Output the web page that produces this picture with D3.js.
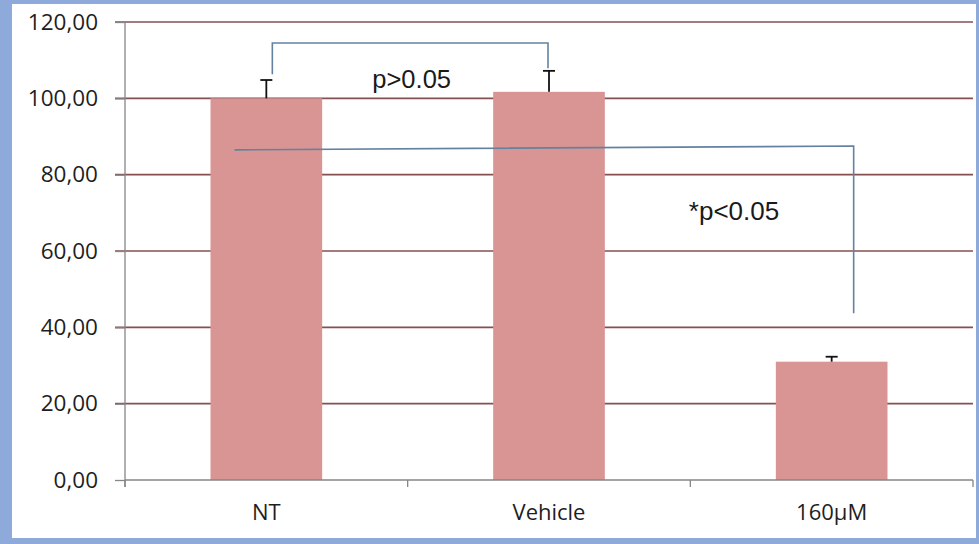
<!DOCTYPE html>
<html>
<head>
<meta charset="utf-8">
<script src="https://cdn.jsdelivr.net/npm/d3@7/dist/d3.min.js"></script>
<style>
  html, body { margin: 0; padding: 0; background: #fff; }
  svg { display: block; }
</style>
</head>
<body>
<svg id="chart" width="979" height="544"></svg>
<script>
// Relative viability per treatment group (mean, upper error)
const categories = ["NT", "Vehicle", "160\u00b5M"];
const means = [100, 101.7, 31.0];
const errors = [4.8, 5.5, 1.3];
const yTicks = [0, 20, 40, 60, 80, 100, 120];

// Significance annotations (levels in axis units)
const bracketNS = { from: "NT", to: "Vehicle", top: 114.5, leftEnd: 106.3, rightEnd: 107.9, label: "p>0.05", labelAt: 102.7 };
const bracketSig = { from: "NT", to: "160\u00b5M", startLevel: 86.5, endLevel: 87.5, drop: 43.7, label: "*p<0.05", labelAt: 68.1 };

const W = 979, H = 544;
const margin = { top: 22, right: 6, bottom: 64, left: 125 };
const svg = d3.select("#chart");

// Frame
svg.append("rect").attr("x", 0).attr("y", 0).attr("width", W).attr("height", H).attr("fill", "#8eaadb");
svg.append("rect").attr("x", 12).attr("y", 4).attr("width", W - 12 - 3).attr("height", H - 4 - 6).attr("fill", "#ffffff");

const x = d3.scaleBand()
  .domain(categories)
  .range([margin.left, W - margin.right])
  .paddingInner(0.605)
  .paddingOuter(0.3025);

const y = d3.scaleLinear()
  .domain([0, 120])
  .range([H - margin.bottom, margin.top]);

const font = "'Open Sans', 'Liberation Sans', Arial, sans-serif";

// Horizontal gridlines
svg.append("g")
  .selectAll("line")
  .data(yTicks.filter(d => d > 0))
  .join("line")
  .attr("x1", margin.left - 10)
  .attr("x2", W - margin.right)
  .attr("y1", d => y(d))
  .attr("y2", d => y(d))
  .attr("stroke", "#864f50")
  .attr("stroke-width", 1.6);

// Y axis
const yAxis = svg.append("g")
  .attr("transform", `translate(${margin.left},0)`)
  .call(d3.axisLeft(y).tickValues(yTicks).tickSize(10).tickPadding(17)
    .tickFormat(d => d3.format(".2f")(d).replace(".", ",")));
yAxis.select(".domain").attr("stroke", "#868686").attr("stroke-width", 1.3)
  .attr("d", `M0,${y(120)}V${y(0) + 7}`);
yAxis.selectAll(".tick line").attr("stroke", "#868686").attr("stroke-width", 1.3);
yAxis.selectAll(".tick text").attr("font-family", font).attr("font-size", 22.5).attr("fill", "#1e1e1e");

// Bars
svg.append("g")
  .selectAll("rect")
  .data(categories)
  .join("rect")
  .attr("x", d => x(d))
  .attr("width", x.bandwidth())
  .attr("y", (d, i) => y(means[i]))
  .attr("height", (d, i) => y(0) - y(means[i]))
  .attr("fill", "#d99594");

// X axis
const xBase = y(0);
svg.append("line")
  .attr("x1", margin.left).attr("x2", W - margin.right)
  .attr("y1", xBase).attr("y2", xBase)
  .attr("stroke", "#868686").attr("stroke-width", 1.3);
const step = x.step();
const bounds = d3.range(categories.length + 1).map(i => margin.left + i * step);
svg.append("g").selectAll("line").data(bounds).join("line")
  .attr("x1", d => d).attr("x2", d => d)
  .attr("y1", xBase).attr("y2", xBase + 7)
  .attr("stroke", "#868686").attr("stroke-width", 1.3);
svg.append("g").selectAll("text").data(categories).join("text")
  .attr("x", d => x(d) + x.bandwidth() / 2)
  .attr("y", xBase + 40)
  .attr("text-anchor", "middle")
  .attr("font-family", font).attr("font-size", 22).attr("fill", "#1e1e1e")
  .text(d => d);

// Error bars (upper)
const eb = svg.append("g").attr("stroke", "#111").attr("stroke-width", 1.8);
categories.forEach((c, i) => {
  const cx = x(c) + x.bandwidth() / 2;
  eb.append("line").attr("x1", cx).attr("x2", cx).attr("y1", y(means[i])).attr("y2", y(means[i] + errors[i]));
  eb.append("line").attr("x1", cx - 6).attr("x2", cx + 6).attr("y1", y(means[i] + errors[i])).attr("y2", y(means[i] + errors[i]));
});

// Significance brackets
const annColor = "#6482a0";
const ann = svg.append("g").attr("fill", "none").attr("stroke", annColor).attr("stroke-width", 1.6);
const c1 = x(bracketNS.from) + x.bandwidth() / 2 + 6;
const c2 = x(bracketNS.to) + x.bandwidth() / 2 - 1;
ann.append("path").attr("d", d3.line()([
  [c1, y(bracketNS.leftEnd)], [c1, y(bracketNS.top)], [c2, y(bracketNS.top)], [c2, y(bracketNS.rightEnd)]
]));
const s1 = x(bracketSig.from) + x.bandwidth() * 0.215;
const s2 = x(bracketSig.to) + x.bandwidth() / 2 + 22;
ann.append("path").attr("d", d3.line()([
  [s1, y(bracketSig.startLevel)], [s2, y(bracketSig.endLevel)], [s2, y(bracketSig.drop)]
]));

const labFont = "'Liberation Sans', Arial, sans-serif";
svg.append("text")
  .attr("x", (x(bracketNS.from) + x(bracketNS.to)) / 2 + x.bandwidth() / 2 + 4)
  .attr("y", y(bracketNS.labelAt))
  .attr("text-anchor", "middle")
  .attr("font-family", labFont).attr("font-size", 25.5).attr("fill", "#1a1a1a")
  .text(bracketNS.label);
svg.append("text")
  .attr("x", 734)
  .attr("y", y(bracketSig.labelAt))
  .attr("text-anchor", "middle")
  .attr("font-family", labFont).attr("font-size", 26).attr("fill", "#1a1a1a")
  .text(bracketSig.label);
</script>
</body>
</html>
